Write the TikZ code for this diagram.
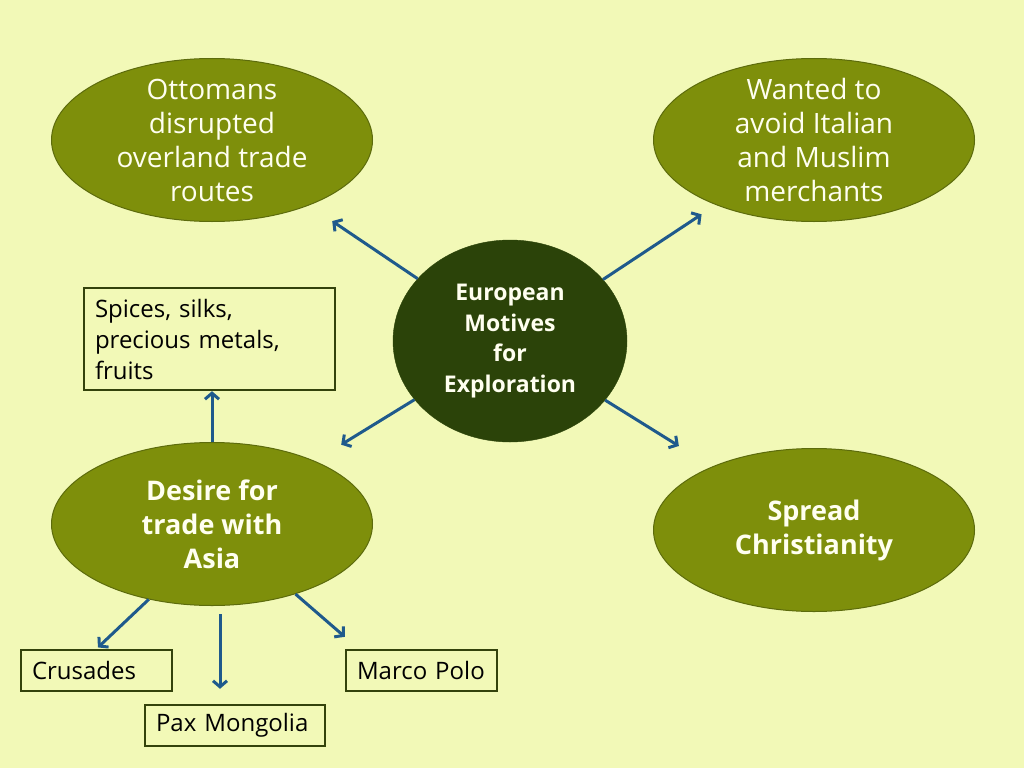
\documentclass[tikz,border=0pt]{standalone}
\usepackage{fontspec}
\setmainfont{Open Sans}
\usetikzlibrary{arrows.meta,shapes.geometric}
\definecolor{bg}{HTML}{F2F9B7}
\definecolor{olivef}{HTML}{7E8F0B}
\definecolor{olived}{HTML}{5C6B0C}
\definecolor{darkc}{HTML}{2B4309}
\definecolor{boxc}{HTML}{34430C}
\definecolor{arrc}{HTML}{1F5A8C}
\definecolor{txtc}{HTML}{FFFFF0}
\begin{document}
\begin{tikzpicture}[x=1pt,y=-1pt,
  oval/.style={ellipse, draw=olived, line width=1pt, fill=olivef, minimum width=321pt, minimum height=163pt, inner sep=0pt},
  etext/.style={text=txtc, align=center, font=\fontsize{28}{34}\selectfont},
  btext/.style={text=txtc, align=center, font=\fontsize{27}{34}\selectfont\bfseries},
  ctext/.style={text=txtc, align=center, font=\fontsize{23}{30.5}\selectfont\bfseries},
  tbox/.style={draw=boxc, line width=2.4pt, fill=bg, inner xsep=11pt, inner ysep=0pt, align=left, font=\fontsize{24}{31}\selectfont},
  arr/.style={draw=arrc, line width=3pt, -{Straight Barb[length=6pt,width=14pt]}}]
\useasboundingbox (0,0) rectangle (1024,768);
\fill[bg] (0,0) rectangle (1024,768);

\node[oval, label={[etext]center:{Ottomans\\disrupted\\overland trade\\routes}}] (ott) at (212,140) {};
\node[oval, label={[etext]center:{Wanted to\\avoid Italian\\and Muslim\\merchants}}] (want) at (814,140) {};
\node[oval, label={[btext]center:{Desire for\\trade with\\Asia}}] (des) at (212,524) {};
\node[oval, label={[btext]center:{Spread\\Christianity}}] (spr) at (814,530) {};
\node[ellipse, draw=darkc, fill=darkc, minimum width=234pt, minimum height=202pt, inner sep=0pt,
      label={[ctext]center:{European\\Motives\\for\\Exploration}}] (c) at (510,341) {};

\node[tbox, text width=229pt, minimum height=102pt] (spi) at (209.5,339) {Spices, silks,\\precious metals,\\fruits};
\node[tbox, text width=129pt, minimum height=41pt] (cru) at (96.5,670.5) {Crusades};
\node[tbox, text width=158pt, minimum height=41pt] (pax) at (235,725.5) {Pax Mongolia};
\node[tbox, text width=129pt, minimum height=41pt] (mar) at (421.5,670.5) {Marco Polo};

\draw[arr, shorten >=28pt] (c) -- (ott);
\draw[arr, shorten >=17pt] (c) -- (want);
\draw[arr, shorten >=31pt] (c) -- (des);
\draw[arr, shorten >=39pt] (c) -- (spr);

\draw[arr] (des.north) -- (des.north |- spi.south);
\draw[arr, shorten >=2pt] (des.-130) -- (cru.north);
\draw[arr, shorten <=8pt, shorten >=15pt] ([xshift=8pt]des.south) -- ([xshift=8pt]des.south |- pax.north);
\draw[arr] (des.-40) -- ([yshift=12pt]mar.north west);
\end{tikzpicture}
\end{document}
